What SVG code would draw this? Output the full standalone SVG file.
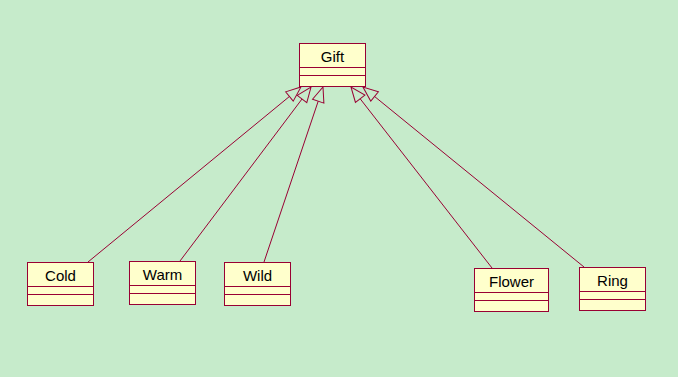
<svg xmlns="http://www.w3.org/2000/svg" width="678" height="377" viewBox="0 0 678 377">
<style>
.box{fill:#FFFFCC;stroke:#990033;stroke-width:1}
.div{stroke:#990033;stroke-width:1}
.lbl{font-family:"Liberation Sans",Arial,sans-serif;font-size:15px;fill:#000;text-anchor:middle}
.edge{fill:none;stroke:#990033;stroke-width:1}
</style>
<defs>
<marker id="gen" markerUnits="userSpaceOnUse" markerWidth="20" markerHeight="20" refX="0" refY="10" viewBox="0 0 20 20" orient="auto" overflow="visible">
<path d="M0,4 L15,10 L0,16 Z" fill="none" stroke="#990033" stroke-width="1"/>
</marker>
</defs>
<rect width="678" height="377" fill="#C6EBCB"/>
<g id="connectors">
<path class="edge" d="M88,262 L289.4,96.5" marker-end="url(#gen)"/>
<path class="edge" d="M180,261 L302,99" marker-end="url(#gen)"/>
<path class="edge" d="M264,262 L318.2,101.2" marker-end="url(#gen)"/>
<path class="edge" d="M492,268 L360.2,98.8" marker-end="url(#gen)"/>
<path class="edge" d="M584,267 L374.6,96.5" marker-end="url(#gen)"/>
</g>
<g id="Gift">
<rect class="box" x="299.5" y="43.5" width="66" height="43"/>
<line class="div" x1="299.5" y1="67.5" x2="365.5" y2="67.5"/>
<line class="div" x1="299.5" y1="75.5" x2="365.5" y2="75.5"/>
<text class="lbl" x="332.5" y="62">Gift</text>
</g>
<g id="Cold">
<rect class="box" x="27.5" y="262.5" width="66" height="43"/>
<line class="div" x1="27.5" y1="286.5" x2="93.5" y2="286.5"/>
<line class="div" x1="27.5" y1="294.5" x2="93.5" y2="294.5"/>
<text class="lbl" x="60.5" y="281">Cold</text>
</g>
<g id="Warm">
<rect class="box" x="129.5" y="261.5" width="66" height="43"/>
<line class="div" x1="129.5" y1="285.5" x2="195.5" y2="285.5"/>
<line class="div" x1="129.5" y1="293.5" x2="195.5" y2="293.5"/>
<text class="lbl" x="162.5" y="280">Warm</text>
</g>
<g id="Wild">
<rect class="box" x="224.5" y="262.5" width="66" height="43"/>
<line class="div" x1="224.5" y1="286.5" x2="290.5" y2="286.5"/>
<line class="div" x1="224.5" y1="294.5" x2="290.5" y2="294.5"/>
<text class="lbl" x="257.5" y="281">Wild</text>
</g>
<g id="Flower">
<rect class="box" x="474.5" y="268.5" width="74" height="43"/>
<line class="div" x1="474.5" y1="292.5" x2="548.5" y2="292.5"/>
<line class="div" x1="474.5" y1="300.5" x2="548.5" y2="300.5"/>
<text class="lbl" x="511.5" y="287">Flower</text>
</g>
<g id="Ring">
<rect class="box" x="579.5" y="267.5" width="66" height="43"/>
<line class="div" x1="579.5" y1="291.5" x2="645.5" y2="291.5"/>
<line class="div" x1="579.5" y1="299.5" x2="645.5" y2="299.5"/>
<text class="lbl" x="612.5" y="286">Ring</text>
</g>
</svg>
